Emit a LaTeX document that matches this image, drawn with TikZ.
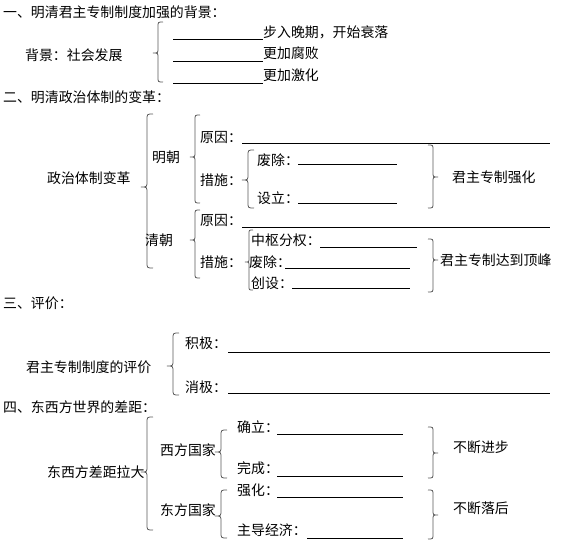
\documentclass[tikz,border=0pt]{standalone}
\usepackage{fontspec}
\newfontfamily\cjk{Noto Sans CJK SC}
\newcommand{\LBr}[5]{% spine x, top y, tip y, bottom y, width
\draw[brc] ({#1+#5},#2) .. controls (#1,#2) .. (#1,{#2+#5})
 -- (#1,{#3-#5}) .. controls (#1,#3) .. ({#1-#5},#3)
 .. controls (#1,#3) .. (#1,{#3+#5})
 -- (#1,{#4-#5}) .. controls (#1,#4) .. ({#1+#5},#4);}
\newcommand{\RBr}[5]{%
\draw[brc] ({#1-#5},#2) .. controls (#1,#2) .. (#1,{#2+#5})
 -- (#1,{#3-#5}) .. controls (#1,#3) .. ({#1+#5},#3)
 .. controls (#1,#3) .. (#1,{#3+#5})
 -- (#1,{#4-#5}) .. controls (#1,#4) .. ({#1-#5},#4);}
\begin{document}
\begin{tikzpicture}[x=1pt,y=-1pt,
  lbl/.style={anchor=west,inner sep=0pt,font=\cjk\fontsize{13.9}{16}\selectfont,text=black},
  brc/.style={draw=black!65,line width=0.8pt},
  uline/.style={draw=black,line width=0.8pt}]
\useasboundingbox[fill=white] (0,0) rectangle (563,549);
% ---- Section 1
\node[lbl] (h1) at (3,12) {一、明清君主专制制度加强的背景：};
\node[lbl] (bg) at (25,55) {背景：社会发展};
\LBr{158}{22}{53}{82}{5}
\draw[uline] (173,39) -- (263,39);
\draw[uline] (173,61) -- (263,61);
\draw[uline] (173,83) -- (263,83);
\node[lbl] (b1) at (263,32) {步入晚期，开始衰落};
\node[lbl] (b2) at (263,53) {更加腐败};
\node[lbl] (b3) at (263,75) {更加激化};
% ---- Section 2
\node[lbl] (h2) at (3,97) {二、明清政治体制的变革：};
\node[lbl] (zz) at (47,178) {政治体制变革};
\LBr{147}{114}{187}{268}{6}
\node[lbl] (mc) at (152,157) {明朝};
\LBr{195}{115}{157}{203}{5}
\node[lbl] (yy1) at (200,137) {原因：};
\draw[uline] (242,143) -- (550,143);
\node[lbl] (cs1) at (200,180) {措施：};
\LBr{248}{150}{180}{208}{6}
\node[lbl] (fc1) at (257,160) {废除：};
\draw[uline] (298,164) -- (397,164);
\node[lbl] (sl) at (257,198) {设立：};
\draw[uline] (298,203) -- (397,203);
\RBr{433}{145}{177}{208}{5}
\node[lbl] (qh) at (452,177) {君主专制强化};
\node[lbl] (qc) at (145,240) {清朝};
\LBr{195}{210}{240}{278}{5}
\node[lbl] (yy2) at (200,220) {原因：};
\draw[uline] (242,227) -- (550,227);
\node[lbl] (cs2) at (200,262) {措施：};
\LBr{249}{230}{262}{290}{4}
\node[lbl] (zs) at (251,240) {中枢分权：};
\draw[uline] (320,247) -- (417,247);
\node[lbl] (fc2) at (249,262) {废除：};
\draw[uline] (285,268) -- (410,268);
\node[lbl] (cj) at (251,283) {创设：};
\draw[uline] (292,288) -- (410,288);
\RBr{433}{239}{260}{292}{5}
\node[lbl] (dd) at (440,260) {君主专制达到顶峰};
% ---- Section 3
\node[lbl] (h3) at (3,303) {三、评价：};
\node[lbl] (pj) at (26,367) {君主专制制度的评价};
\LBr{173}{333}{366}{395}{6}
\node[lbl] (jj) at (185,343) {积极：};
\draw[uline] (228,352) -- (550,352);
\node[lbl] (xj) at (185,387) {消极：};
\draw[uline] (228,393) -- (550,393);
% ---- Section 4
\node[lbl] (h4) at (3,407) {四、东西方世界的差距：};
\node[lbl] (dx) at (47,472) {东西方差距拉大};
\LBr{147}{417}{472}{530}{6}
\node[lbl] (xf) at (160,450) {西方国家};
\LBr{221}{430}{452}{478}{6}
\node[lbl] (ql) at (237,427) {确立：};
\draw[uline] (277,434) -- (403,434);
\node[lbl] (wc) at (237,468) {完成：};
\draw[uline] (277,476) -- (403,476);
\node[lbl] (dfg) at (160,510) {东方国家};
\LBr{221}{490}{516}{538}{6}
\node[lbl] (qh2) at (237,490) {强化：};
\draw[uline] (277,497) -- (403,497);
\node[lbl] (zd) at (237,530) {主导经济：};
\draw[uline] (307,538) -- (403,538);
\RBr{433}{427}{453}{478}{5}
\node[lbl] (jb) at (453,447) {不断进步};
\RBr{433}{490}{515}{539}{5}
\node[lbl] (lh) at (453,508) {不断落后};
\end{tikzpicture}
\end{document}
